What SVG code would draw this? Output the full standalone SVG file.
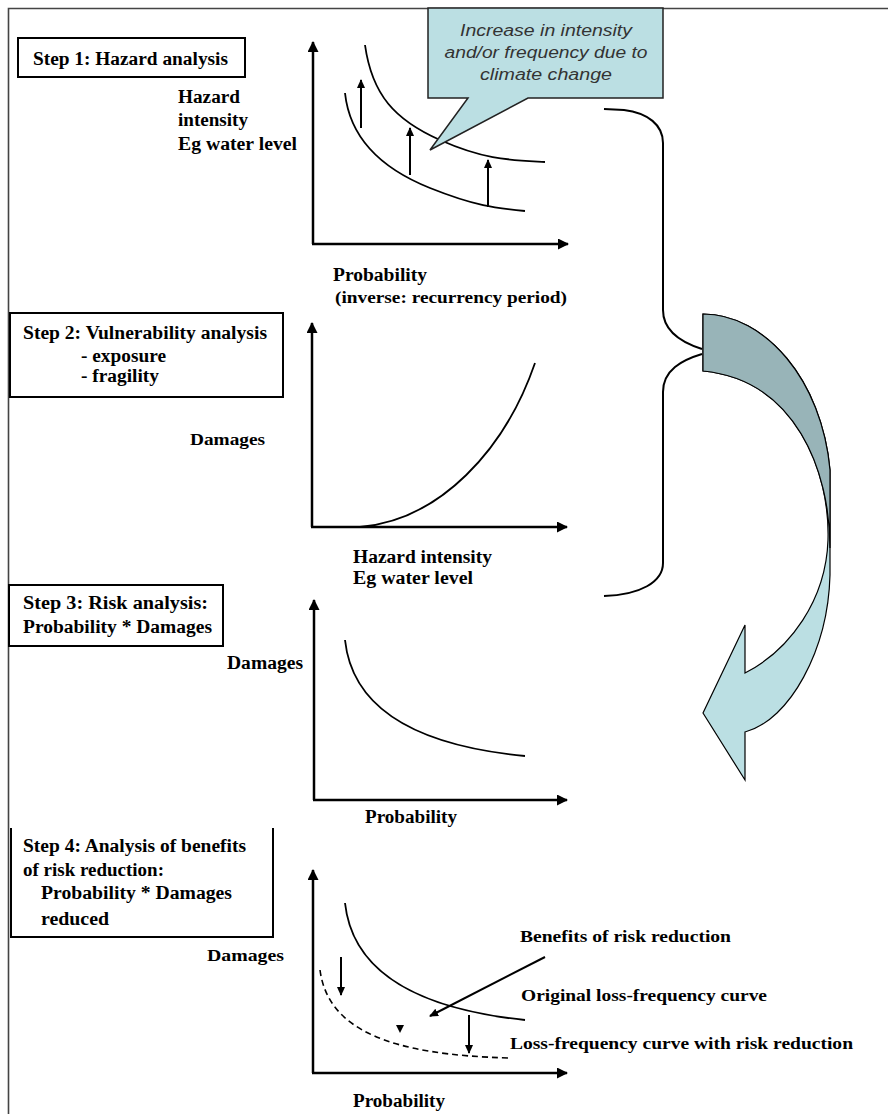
<svg xmlns="http://www.w3.org/2000/svg" width="888" height="1114" viewBox="0 0 888 1114">
<defs>
<marker id="ah" markerUnits="userSpaceOnUse" markerWidth="11" markerHeight="11" refX="10" refY="5.5" orient="auto"><path d="M0,0 L11,5.5 L0,11 Z" fill="#000"/></marker>
<marker id="ahs" markerUnits="userSpaceOnUse" markerWidth="9" markerHeight="9" refX="8" refY="4" orient="auto"><path d="M0,0 L9,4 L0,8 Z" fill="#000"/></marker>
<style>
.t{font-family:"Liberation Serif","Times New Roman",serif;font-weight:bold;font-size:18px;fill:#000}
.s{font-size:17px}
.c{font-family:"Liberation Sans",Arial,sans-serif;font-style:italic;font-size:16px;fill:#333}
.box{fill:#fff;stroke:#000;stroke-width:2}
.ax{fill:none;stroke:#000;stroke-width:2.5;marker-end:url(#ah)}
.cv{fill:none;stroke:#000;stroke-width:1.8}
.dv{fill:none;stroke:#000;stroke-width:1.6;stroke-dasharray:6 4}
.ar{fill:none;stroke:#000;stroke-width:2;marker-end:url(#ahs)}
.br{fill:none;stroke:#000;stroke-width:2}
</style>
</defs>
<rect width="888" height="1114" fill="#fff"/>
<g id="frame"><path d="M8.5,1114 V8.5 H888" fill="none" stroke="#444" stroke-width="1.6"/></g>

<g id="step1">
<rect class="box" x="18" y="38" width="227" height="39"/>
<text class="t" x="33" y="65" textLength="195" lengthAdjust="spacingAndGlyphs">Step 1: Hazard analysis</text>
</g>
<g id="graph1-ylabel">
<text class="t" x="178" y="103" textLength="62" lengthAdjust="spacingAndGlyphs">Hazard</text>
<text class="t" x="178" y="126" textLength="70" lengthAdjust="spacingAndGlyphs">intensity</text>
<text class="t" x="178" y="150" textLength="119" lengthAdjust="spacingAndGlyphs">Eg water level</text>
</g>
<g id="graph1">
<path class="ax" d="M313,244 V42"/>
<path class="ax" d="M312,244 H568"/>
<path class="cv" d="M365,45 C372,95 395,120 440,140 S510,160 545,162"/>
<path class="cv" d="M345,93 C350,140 385,170 430,188 S495,208 525,211"/>
<path class="ar" d="M361,128 V80"/>
<path class="ar" d="M410,175 V128"/>
<path class="ar" d="M488,207 V160"/>
</g>
<g id="graph1-xlabel">
<text class="t" x="333" y="281" textLength="94" lengthAdjust="spacingAndGlyphs">Probability</text>
<text class="t s" x="335" y="303" textLength="232" lengthAdjust="spacingAndGlyphs">(inverse: recurrency period)</text>
</g>
<g id="callout">
<path d="M428,8 H663 V98 H528 L430,150 L468,98 H428 Z" fill="#bbdfe3" stroke="#222" stroke-width="1.5" stroke-linejoin="miter"/>
<text class="c" x="546" y="36" text-anchor="middle" textLength="172" lengthAdjust="spacingAndGlyphs">Increase in intensity</text>
<text class="c" x="546" y="58" text-anchor="middle" textLength="203" lengthAdjust="spacingAndGlyphs">and/or frequency due to</text>
<text class="c" x="546" y="80" text-anchor="middle" textLength="132" lengthAdjust="spacingAndGlyphs">climate change</text>
</g>

<g id="step2">
<rect class="box" x="10" y="313" width="273" height="84"/>
<text class="t" x="23" y="339" textLength="244" lengthAdjust="spacingAndGlyphs">Step 2: Vulnerability analysis</text>
<text class="t" x="81" y="362" textLength="85" lengthAdjust="spacingAndGlyphs">- exposure</text>
<text class="t" x="81" y="382" textLength="78" lengthAdjust="spacingAndGlyphs">- fragility</text>
</g>
<g id="graph2-ylabel"><text class="t s" x="190" y="445" textLength="75" lengthAdjust="spacingAndGlyphs">Damages</text></g>
<g id="graph2">
<path class="ax" d="M312,527 V323"/>
<path class="ax" d="M311,527 H567"/>
<path class="cv" d="M360,527 C440,520 505,450 535,363"/>
</g>
<g id="graph2-xlabel">
<text class="t" x="353" y="563" textLength="139" lengthAdjust="spacingAndGlyphs">Hazard intensity</text>
<text class="t" x="353" y="584" textLength="120" lengthAdjust="spacingAndGlyphs">Eg water level</text>
</g>

<g id="step3">
<rect class="box" x="9" y="585" width="214" height="61"/>
<text class="t" x="23" y="609" textLength="185" lengthAdjust="spacingAndGlyphs">Step 3: Risk analysis:</text>
<text class="t" x="23" y="633" textLength="189" lengthAdjust="spacingAndGlyphs">Probability * Damages</text>
</g>
<g id="graph3-ylabel"><text class="t" x="227" y="669" textLength="76" lengthAdjust="spacingAndGlyphs">Damages</text></g>
<g id="graph3">
<path class="ax" d="M314,800 V600"/>
<path class="ax" d="M313,800 H567"/>
<path class="cv" d="M345,640 C352,705 410,745 525,756"/>
</g>
<g id="graph3-xlabel"><text class="t" x="365" y="823" textLength="92" lengthAdjust="spacingAndGlyphs">Probability</text></g>

<g id="step4">
<path d="M11,828 V937 H273 V828" fill="#fff" stroke="#000" stroke-width="2"/>
<text class="t" x="23" y="852" textLength="223" lengthAdjust="spacingAndGlyphs">Step 4: Analysis of benefits</text>
<text class="t" x="23" y="876" textLength="141" lengthAdjust="spacingAndGlyphs">of risk reduction:</text>
<text class="t" x="41" y="899" textLength="191" lengthAdjust="spacingAndGlyphs">Probability * Damages</text>
<text class="t" x="41" y="925" textLength="68" lengthAdjust="spacingAndGlyphs">reduced</text>
</g>
<g id="graph4-ylabel"><text class="t s" x="207" y="961" textLength="77" lengthAdjust="spacingAndGlyphs">Damages</text></g>
<g id="graph4">
<path class="ax" d="M313,1073 V870"/>
<path class="ax" d="M312,1073 H567"/>
<path class="cv" d="M345,903 C352,968 410,1008 525,1020"/>
<path class="dv" d="M320,970 C328,1030 390,1055 510,1058"/>
<path class="ar" d="M341,957 V995"/>
<path d="M396,1025 H404 L400,1033 Z" fill="#000"/>
<path class="ar" d="M469,1015 V1053"/>
<path class="ar" d="M545,957 L430,1016"/>
</g>
<g id="graph4-xlabel"><text class="t" x="353" y="1107" textLength="92" lengthAdjust="spacingAndGlyphs">Probability</text></g>
<g id="graph4-labels">
<text class="t s" x="520" y="942" textLength="211" lengthAdjust="spacingAndGlyphs">Benefits of risk reduction</text>
<text class="t s" x="521" y="1001" textLength="246" lengthAdjust="spacingAndGlyphs">Original loss-frequency curve</text>
<text class="t s" x="510" y="1049" textLength="343" lengthAdjust="spacingAndGlyphs">Loss-frequency curve with risk reduction</text>
</g>

<g id="connectors">
<path class="br" d="M604,109 L624,110 C648,113 663,125 663,143 V310 C663,330 680,342 702,349"/>
<path class="br" d="M702,354 C682,360 663,370 663,392 V563 C663,582 640,595 604,596"/>
<path id="cycle-arrow" d="M703,314 C765,314 822,380 830,470 L830,575 C828,650 790,720 745,732 L745,780 L703,713 L745,625 L745,673 C790,650 826,600 828,540 C830,470 795,380 703,371 Z" fill="#bbdfe3" stroke="#000" stroke-width="1.2"/>
<path d="M703,314 C765,314 822,380 830,470 L830,548 C830,470 795,380 703,371 Z" fill="#98b4b8" stroke="#000" stroke-width="1.2"/>
</g>
</svg>
